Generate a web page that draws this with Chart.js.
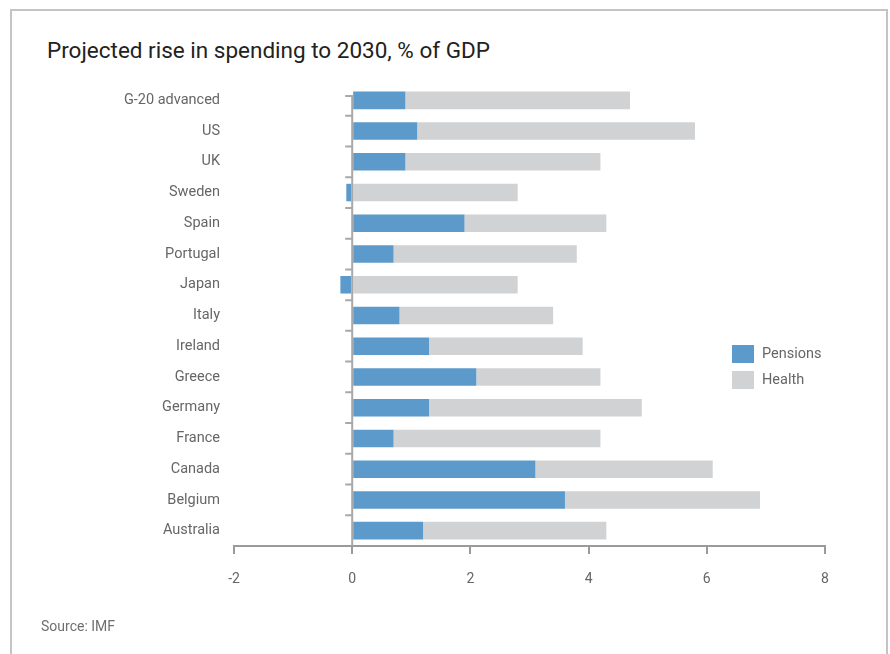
<!DOCTYPE html>
<html>
<head>
<meta charset="utf-8">
<script src="https://cdn.jsdelivr.net/npm/chart.js@4"></script>
<style>
  html, body { margin: 0; padding: 0; background: #fff; }
  body { width: 890px; height: 654px; position: relative; overflow: hidden; font-family: Roboto, "Liberation Sans", sans-serif; }
  .frame { position: absolute; left: 10px; top: 9px; width: 874px; height: 700px; border: 2px solid #c4c4c4; }
  .title { position: absolute; left: 47px; top: 37px; font-size: 22.5px; color: #222; }
  .source { position: absolute; left: 41px; top: 618px; font-size: 14px; color: #6f6f6f; }
  .legend { position: absolute; left: 732px; top: 345px; font-size: 14.5px; color: #666; }
  .legend div { height: 26px; display: flex; align-items: flex-start; }
  .legend span.box { display: inline-block; width: 22px; height: 18px; margin-right: 8px; }
  .legend span.lbl { line-height: 18px; }
  #wrap { position: absolute; left: 0; top: 0; width: 890px; height: 654px; }
</style>
</head>
<body>
<div class="frame"></div>
<div class="title">Projected rise in spending to 2030, % of GDP</div>
<div id="wrap"><canvas id="myChart"></canvas></div>
<div class="legend">
  <div><span class="box" style="background:#5b9aca"></span><span class="lbl">Pensions</span></div>
  <div><span class="box" style="background:#d1d2d4"></span><span class="lbl">Health</span></div>
</div>
<div class="source">Source: IMF</div>
<script>
// data
const countries = ["G-20 advanced", "US", "UK", "Sweden", "Spain", "Portugal", "Japan", "Italy",
  "Ireland", "Greece", "Germany", "France", "Canada", "Belgium", "Australia"];
const pensions = [0.9, 1.1, 0.9, -0.1, 1.9, 0.7, -0.2, 0.8, 1.3, 2.1, 1.3, 0.7, 3.1, 3.6, 1.2];
const health = [3.8, 4.7, 3.3, 2.8, 2.4, 3.1, 2.8, 2.6, 2.6, 2.1, 3.6, 3.5, 3.0, 3.3, 3.1];
const xTicks = [-2, 0, 2, 4, 6, 8];

const blue = "#5b9aca";
const grey = "#d1d2d4";
const axisGrey = "#9a9a9a";

// zero line with little ticks between the bars
const zeroAxis = {
  id: "zeroAxis",
  afterDatasetsDraw(chart) {
    const { ctx, scales } = chart;
    const x0 = scales.x.getPixelForValue(0);
    const top = scales.y.getPixelForValue(-0.5) + 10;
    const bottom = chart.chartArea.bottom;
    ctx.save();
    ctx.strokeStyle = "#a8a8a8";
    ctx.lineWidth = 2;
    ctx.beginPath();
    ctx.moveTo(x0, top);
    ctx.lineTo(x0, bottom);
    ctx.moveTo(x0 - 7, top + 1);
    ctx.lineTo(x0, top + 1);
    for (let i = 0; i < countries.length - 1; i++) {
      const y = scales.y.getPixelForValue(i + 0.5);
      ctx.moveTo(x0 - 7, y);
      ctx.lineTo(x0, y);
    }
    ctx.stroke();
    ctx.restore();
  },
};

const ctx = document.getElementById("myChart").getContext("2d");
new Chart(ctx, {
  type: "bar",
  data: {
    labels: countries,
    datasets: [
      { label: "Pensions", data: pensions, backgroundColor: blue },
      { label: "Health", data: health, backgroundColor: grey },
    ],
  },
  options: {
    indexAxis: "y",
    responsive: true,
    maintainAspectRatio: false,
    animation: false,
    layout: { padding: { top: 85, right: 65, bottom: 58, left: 0 } },
    plugins: {
      legend: { display: false },
      tooltip: { enabled: false },
    },
    datasets: {
      bar: { categoryPercentage: 1, barPercentage: 0.57 },
    },
    scales: {
      x: {
        stacked: true,
        min: -2,
        max: 8,
        afterBuildTicks: (scale) => {
          scale.ticks = xTicks.map((v) => ({ value: v }));
        },
        afterFit: (scale) => {
          scale.height = 50;
        },
        border: { display: true, color: axisGrey, width: 2 },
        grid: {
          drawOnChartArea: false,
          drawTicks: true,
          tickLength: 8,
          tickColor: axisGrey,
          lineWidth: 2,
        },
        ticks: {
          color: "#666",
          padding: 17,
          font: { family: "Roboto", size: 14 },
        },
      },
      y: {
        stacked: true,
        afterFit: (scale) => {
          scale.width = 234;
        },
        border: { display: false },
        grid: { display: false, drawTicks: false },
        ticks: {
          color: "#666",
          padding: 14,
          font: { family: "Roboto", size: 14.5 },
        },
      },
    },
  },
  plugins: [zeroAxis],
});
</script>
</body>
</html>
